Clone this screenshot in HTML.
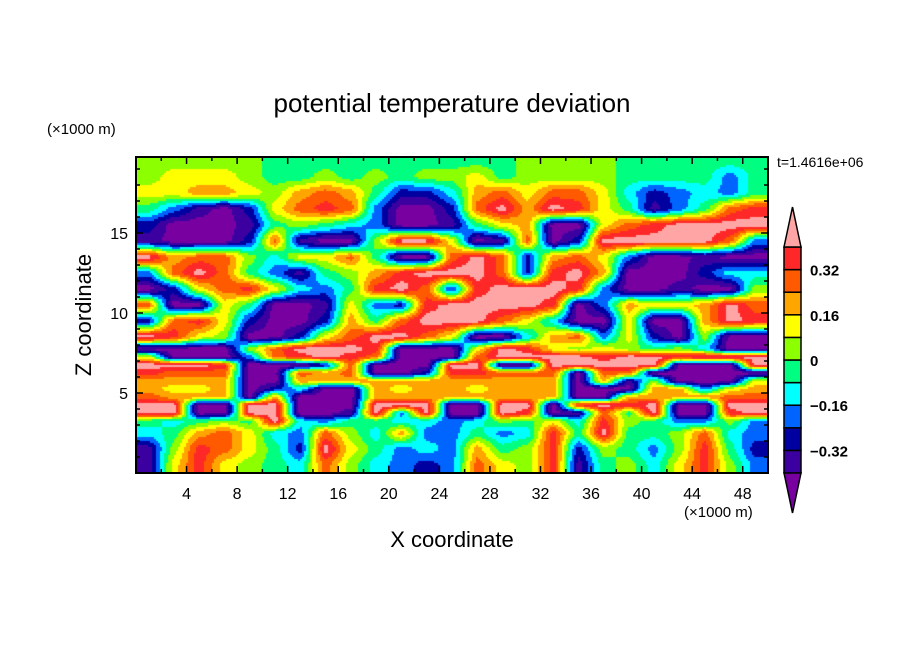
<!DOCTYPE html>
<html>
<head>
<meta charset="utf-8">
<style>
html,body{margin:0;padding:0;background:#fff;}
body{width:904px;height:654px;position:relative;overflow:hidden;font-family:"Liberation Sans","DejaVu Sans",sans-serif;}
svg{position:absolute;left:0;top:0;}
canvas{position:absolute;left:136px;top:157px;}
</style>
</head>
<body>
<canvas id="field" width="632" height="316"></canvas>
<svg id="chart" width="904" height="654"></svg>
<script>
// Grid: columns at x = 1,3,...,49 (km); rows at listed heights z (km), top to bottom
const xCenters = [1,3,5,7,9,11,13,15,17,19,21,23,25,27,29,31,33,35,37,39,41,43,45,47,49];
const zCenters = [19.5,18.5,17.5,16.5,15.5,14.5,13.5,12.5,11.5,10.5,9.5,8.5,7.75,7.25,6.75,6.25,5.75,5.25,4.75,4.25,3.75,3.25,2.5,1.5,0.5];
const row195 = [.04,.04,.04,.04,.04,-.04,-.04,-.04,-.04,-.04,-.04,-.04,-.04,-.04,-.04,.04,.04,.04,.04,-.04,-.04,-.04,-.04,-.04,-.04];
const row185 = [.04,.12,.12,.12,.04,-.04,-.04,.04,-.04,.04,-.04,.04,.04,.12,-.04,.04,.04,.04,.04,-.04,-.04,-.04,-.04,-.2,-.04];
const row175 = [.12,.12,.2,.2,.12,.04,.2,.28,.2,-.04,-.28,-.28,-.12,.2,.28,.12,.28,.28,.12,-.12,-.28,-.2,-.12,-.2,-.04];
const row165 = [-.04,-.2,-.36,-.44,-.28,.12,.28,.36,.28,-.2,-.44,-.44,-.28,.28,.44,.2,.44,.36,.12,-.04,-.36,-.2,-.04,.28,.36];
const row155 = [-.28,-.44,-.44,-.44,-.36,-.04,.04,-.04,-.12,-.2,-.44,-.44,-.36,-.04,.12,.2,-.44,-.44,.12,.28,.36,.44,.44,.44,.44];
const row145 = [-.36,-.44,-.44,-.44,-.28,.28,-.36,-.44,-.44,.04,.44,.44,.12,-.44,-.36,.28,-.44,-.28,.44,.44,.44,.44,.44,.28,-.2];
const row135 = [.44,.2,.28,.28,.04,-.12,.12,.12,.28,-.04,-.44,-.44,.28,.44,.28,-.28,.2,.28,.12,-.2,-.44,-.44,-.36,-.44,-.44];
const row125 = [-.2,.28,.44,.28,-.04,-.2,-.36,-.04,.04,.2,.36,.44,.44,.44,.28,-.28,.36,.44,.2,-.44,-.44,-.44,-.28,-.12,-.12];
const row115 = [-.44,-.28,.12,.28,.36,.12,-.12,-.2,-.04,.36,.44,.28,-.28,.36,.44,.44,.44,.36,-.2,-.44,-.44,-.36,-.44,-.44,.04];
const row105 = [.28,-.44,-.44,.12,-.04,-.44,-.44,-.36,.12,-.2,-.28,.36,.44,.44,.44,.44,.36,-.44,-.2,.2,.12,.12,.2,.44,.28];
const row95  = [-.28,.28,.36,.12,-.28,-.44,-.44,-.28,.2,-.04,.28,.44,.44,.44,.28,.12,-.12,-.44,-.44,.12,-.44,-.44,.2,.44,.36];
const row85  = [.44,.36,.12,.04,-.44,-.44,-.28,.12,.28,.44,.44,.28,.12,-.44,-.44,-.12,.2,.28,-.2,.12,-.28,-.44,.04,-.44,-.44];
const row775 = [-.44,-.44,-.44,-.44,.04,.28,.44,.44,.44,.36,-.44,-.44,-.44,.12,.44,.36,.12,.04,.12,.04,-.04,.04,-.12,-.44,-.44];
const row725 = [.12,-.44,-.44,-.44,-.2,.28,.36,.44,.36,.28,-.44,-.44,-.44,.28,.44,.44,.44,.44,.36,.44,.44,.36,.44,.44,.44];
const row675 = [.44,.44,.44,.36,-.44,-.44,-.44,-.28,.28,-.44,-.44,-.44,.44,.44,-.44,-.44,.44,.44,.44,.44,.44,-.44,-.44,-.44,.44];
const row625 = [.36,.28,.28,.28,-.44,-.44,.28,.2,.28,-.44,-.44,-.28,.36,.36,.28,.28,.28,-.44,.28,.28,-.44,-.44,-.44,-.44,-.44];
const row575 = [.2,.2,.2,.2,-.44,-.44,.2,.2,.2,.2,.2,.2,.2,.2,.2,.2,.2,-.44,.2,-.36,.04,-.44,-.44,-.44,.12];
const row525 = [.2,.12,.12,.2,-.44,-.28,-.12,-.44,-.44,.2,.12,.2,.2,.12,.2,.2,.2,-.44,-.44,-.44,.2,.2,-.2,.12,.2];
const row475 = [.28,.2,.2,.2,-.44,.2,-.44,-.44,-.44,.2,.2,.2,.2,.2,.2,.2,.2,-.44,-.44,.2,.2,.2,.2,.28,.28];
const row425 = [.44,.44,-.44,-.44,.44,.44,-.44,-.44,-.44,.44,.44,.44,-.44,-.44,.44,.44,-.44,.36,.44,.36,.44,-.44,-.44,.44,.44];
const row375 = [.44,.44,-.44,-.44,.44,.44,-.44,-.44,-.36,.44,-.2,.44,-.44,-.44,.44,.36,-.44,-.36,.28,-.04,.44,-.44,-.44,.36,.44];
const row325 = [-.04,-.12,-.04,.04,-.04,.44,-.12,-.2,-.04,-.04,-.12,-.12,-.2,-.12,.04,-.04,.12,-.12,.36,.04,-.04,-.2,-.2,.04,-.2];
const row25  = [-.12,-.04,.2,.28,.12,-.12,-.2,.28,.04,-.12,.2,-.2,-.2,-.04,-.2,-.12,.36,-.04,.44,-.04,-.04,.04,.28,-.12,-.2];
const row15  = [-.36,.04,.36,.28,.12,-.04,-.28,.44,.12,-.04,-.2,-.12,-.2,.2,-.04,.04,.36,-.28,.04,-.04,-.2,.04,.36,-.04,-.28];
const row05  = [-.36,.12,.36,.12,.04,-.04,-.12,.28,.04,-.12,-.2,-.28,-.2,.28,.12,.04,.36,-.36,-.04,.04,-.12,.12,.36,.04,-.2];
const fieldRows = [row195,row185,row175,row165,row155,row145,row135,row125,row115,row105,row95,row85,row775,row725,row675,row625,row575,row525,row475,row425,row375,row325,row25,row15,row05];

const levels = [-0.4,-0.32,-0.24,-0.16,-0.08,0,0.08,0.16,0.24,0.32,0.4];
const levelColors = ["#7800a0","#3c00a0","#0000a0","#0064ff","#00ffff","#00ff80","#8cff00","#ffff00","#ffa500","#ff5a00","#ff2828","#ffa5a5"];
const xTicks = [4,8,12,16,20,24,28,32,36,40,44,48];
const yTicks = [5,10,15];
const cbLabels = ["0.32","0.16","0","-0.16","-0.32"];
const cbLabelValues = [0.32,0.16,0,-0.16,-0.32];

const PL=136, PT=157, PW=632, PH=316, XMAX=50, ZMAX=19.75;
const xs = x => PL + x/XMAX*PW;
const zs = z => PT + PH - z/ZMAX*PH;
const sh = t => 0.65*t + 0.35*t*t*(3-2*t);

(function(){
  const cv=document.getElementById('field'), ctx=cv.getContext('2d');
  const nx=xCenters.length, nz=zCenters.length;
  const step=2;
  for(let py=0;py<PH;py+=step){
    const z = ZMAX - (py+step/2)/PH*ZMAX;
    let j0, tz;
    if(z>=zCenters[0]){j0=0;tz=0;}
    else if(z<=zCenters[nz-1]){j0=nz-2;tz=1;}
    else{
      j0=0; while(j0<nz-2 && zCenters[j0+1]>z) j0++;
      tz=(zCenters[j0]-z)/(zCenters[j0]-zCenters[j0+1]);
    }
    tz=sh(tz);
    for(let px=0;px<PW;px+=step){
      const x=(px+step/2)/PW*XMAX;
      let fx=(x-xCenters[0])/(xCenters[1]-xCenters[0]);
      fx=Math.max(0,Math.min(nx-1,fx));
      const i0=Math.min(nx-2,Math.floor(fx));
      const tx=sh(fx-i0);
      const a=fieldRows[j0][i0], b=fieldRows[j0][i0+1], c=fieldRows[j0+1][i0], d=fieldRows[j0+1][i0+1];
      const v=(a*(1-tx)+b*tx)*(1-tz)+(c*(1-tx)+d*tx)*tz;
      let k=0; while(k<levels.length && v>=levels[k]) k++;
      ctx.fillStyle=levelColors[k];
      ctx.fillRect(px,py,step,step);
    }
  }
})();

const NS="http://www.w3.org/2000/svg";
const svg=document.getElementById('chart');
function mk(tag,attrs,text){const e=document.createElementNS(NS,tag);for(const k in attrs)e.setAttribute(k,attrs[k]);if(text!==undefined)e.textContent=text;svg.appendChild(e);return e;}

let t;
t=mk('text',{x:452,y:112,'text-anchor':'middle','font-size':26,fill:'#000'},'potential temperature deviation');


t=mk('text',{x:47,y:134,'font-size':15,fill:'#000'},'(×1000 m)');


t=mk('text',{x:777,y:167,'font-size':14,fill:'#000'},'t=1.4616e+06');


t=mk('text',{x:0,y:0,'text-anchor':'middle','font-size':22,fill:'#000',transform:'translate(91,315) rotate(-90)'},'Z coordinate');


t=mk('text',{x:452,y:547,'text-anchor':'middle','font-size':22,fill:'#000'},'X coordinate');


t=mk('text',{x:684,y:517,'font-size':15,fill:'#000'},'(×1000 m)');



for(let x=2;x<XMAX;x+=2){
  const len = (x%4===0)?7:4;
  let l=mk('line',{x1:xs(x),x2:xs(x),y1:PT+PH,y2:PT+PH-len,stroke:'#000','stroke-width':1.5});
  
  
  l=mk('line',{x1:xs(x),x2:xs(x),y1:PT,y2:PT+len,stroke:'#000','stroke-width':1.5});
  
  
}
for(let z=1;z<ZMAX;z+=1){
  const len=(z%5===0)?7:4;
  let l=mk('line',{x1:PL,x2:PL+len,y1:zs(z),y2:zs(z),stroke:'#000','stroke-width':1.5});
  
  
  l=mk('line',{x1:PL+PW,x2:PL+PW-len,y1:zs(z),y2:zs(z),stroke:'#000','stroke-width':1.5});
  
  
}
xTicks.forEach(v=>{
  const e=mk('text',{x:xs(v),y:499,'text-anchor':'middle','font-size':16,fill:'#000'},String(v));
  
  
});
yTicks.forEach(v=>{
  const e=mk('text',{x:128,y:zs(v)+6,'text-anchor':'end','font-size':16,fill:'#000'},String(v));
  
  
});
t=mk('rect',{x:PL,y:PT,width:PW,height:PH,fill:'none',stroke:'#000','stroke-width':2});



const CBX=784, CBW=17, CBT=247, CBB=473;
const boxH=(CBB-CBT)/10;
const cbY = v => CBT + (0.4 - v)/0.8*(CBB-CBT);
for(let k=1;k<=10;k++){
  const top=cbY(levels[k]);
  const r=mk('rect',{x:CBX,y:top,width:CBW,height:boxH,fill:levelColors[k],stroke:'#000','stroke-width':1.5});
  
  
}
t=mk('polygon',{points:`${CBX},${CBT} ${CBX+CBW/2},207 ${CBX+CBW},${CBT}`,fill:levelColors[11],stroke:'#000','stroke-width':1.5});


t=mk('polygon',{points:`${CBX},${CBB} ${CBX+CBW/2},513 ${CBX+CBW},${CBB}`,fill:levelColors[0],stroke:'#000','stroke-width':1.5});


cbLabels.forEach((s,i)=>{
  const e=mk('text',{x:810,y:cbY(cbLabelValues[i])+6,'font-size':15,'font-weight':'bold',fill:'#000'},s.replace('-','\u2212'));
  
  
});
</script>
</body>
</html>
